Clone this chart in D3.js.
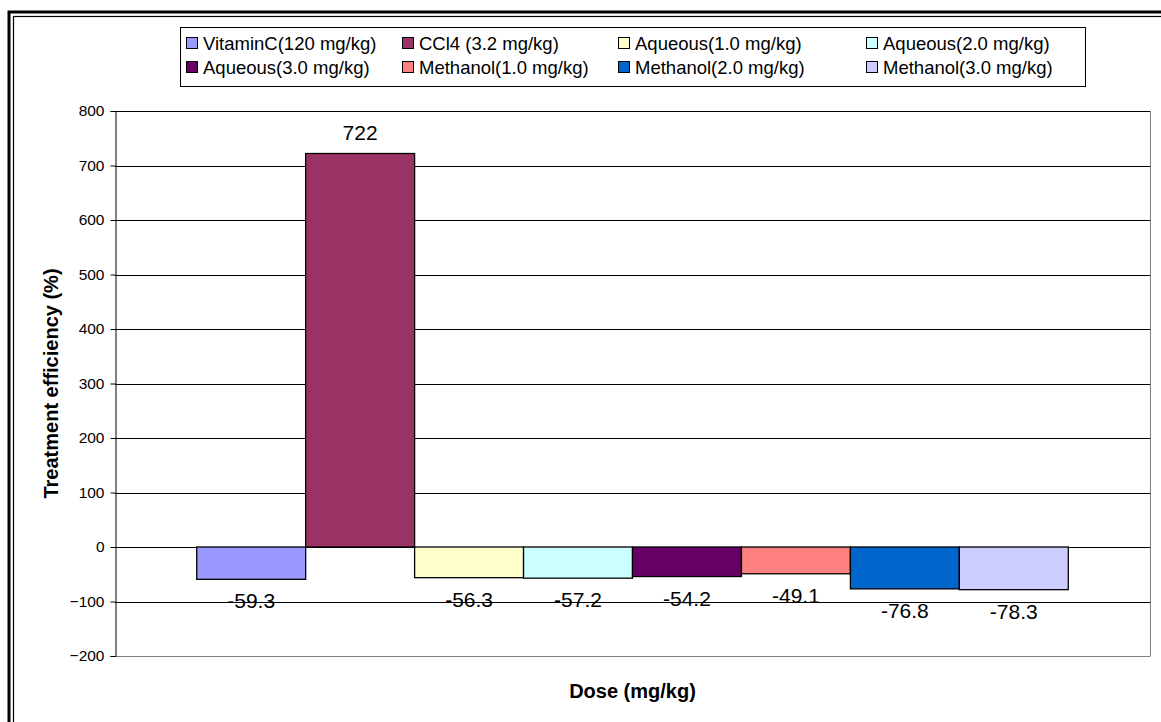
<!DOCTYPE html>
<html><head><meta charset="utf-8">
<script src="https://cdn.jsdelivr.net/npm/d3@7/dist/d3.min.js"></script>
<style>
body{margin:0;background:#fff}
svg{display:block}
text{font-family:"Liberation Sans",Arial,sans-serif;fill:#000}
</style>
</head><body>
<svg id="chart" width="1161" height="722"></svg>
<script>
const categories = ["Dose (mg/kg)"];
const seriesNames = ["VitaminC(120 mg/kg)","CCl4 (3.2 mg/kg)","Aqueous(1.0 mg/kg)","Aqueous(2.0 mg/kg)","Aqueous(3.0 mg/kg)","Methanol(1.0 mg/kg)","Methanol(2.0 mg/kg)","Methanol(3.0 mg/kg)"];
const seriesValues = [-59.3, 722, -56.3, -57.2, -54.2, -49.1, -76.8, -78.3];
const seriesColors = ["#9999FF","#993366","#FFFFCC","#CCFFFF","#660066","#FF8080","#0066CC","#CCCCFF"];
const yTickValues = [-200,-100,0,100,200,300,400,500,600,700,800];
const yTitle = "Treatment efficiency (%)";
const xTitle = "Dose (mg/kg)";

const svg = d3.select("#chart");
svg.append("rect").attr("width",1161).attr("height",722).attr("fill","#fff");

// outer double frame
svg.append("rect").attr("x",9).attr("y",12).attr("width",1300).attr("height",900)
  .attr("fill","none").attr("stroke","#000").attr("stroke-width",3);
svg.append("rect").attr("x",13.5).attr("y",16.5).attr("width",1300).attr("height",900)
  .attr("fill","none").attr("stroke","#000").attr("stroke-width",1.2);

const plot = {left:115, right:1150, top:111, bottom:656};

const y = d3.scaleLinear().domain([-200,800]).range([plot.bottom, plot.top]);
const x0 = d3.scaleBand().domain(categories).range([plot.left, plot.right])
  .paddingInner(0).paddingOuter(0.75/8);
const x1 = d3.scaleBand().domain(seriesNames).range([0, x0.bandwidth()]).padding(0);

// gridlines
const g = svg.append("g");
g.selectAll("line.grid").data(yTickValues).join("line")
  .attr("x1",plot.left).attr("x2",plot.right)
  .attr("y1",d=>Math.round(y(d))+0.5).attr("y2",d=>Math.round(y(d))+0.5)
  .attr("stroke",d=>d===-200?"#808080":"#000").attr("stroke-width",1);
// right border
g.append("line").attr("x1",plot.right+0.5).attr("x2",plot.right+0.5)
  .attr("y1",plot.top).attr("y2",plot.bottom+0.5).attr("stroke","#808080");

// bars
const bars = svg.append("g").attr("transform",`translate(${x0(categories[0])},0)`);
const data = seriesNames.map((n,i)=>({name:n, value:seriesValues[i], color:seriesColors[i]}));
bars.selectAll("rect").data(data).join("rect")
  .attr("x",d=>x1(d.name)).attr("width",x1.bandwidth())
  .attr("y",d=>y(Math.max(0,d.value))).attr("height",d=>Math.abs(y(d.value)-y(0)))
  .attr("fill",d=>d.color).attr("stroke","#000").attr("stroke-width",1.3);

// data labels
bars.selectAll("text").data(data).join("text")
  .attr("x",d=>x1(d.name)+x1.bandwidth()/2)
  .attr("y",d=>d.value>=0 ? y(d.value)-21 : y(d.value)+21.5)
  .attr("text-anchor","middle").attr("dominant-baseline","central")
  .style("font-size","21px")
  .text(d=>d.value);

// y axis
const yAxis = d3.axisLeft(y).tickValues(yTickValues).tickSize(5).tickPadding(6);
const ya = svg.append("g").attr("transform",`translate(${plot.left+0.5},0)`).call(yAxis);
ya.select(".domain").attr("stroke","#000");
ya.selectAll(".tick line").attr("stroke","#000");
ya.selectAll(".tick text").style("font-size","15.5px").attr("font-family",null);

// axis titles
svg.append("text").attr("transform",`translate(51,${(plot.top+plot.bottom)/2}) rotate(-90)`)
  .attr("text-anchor","middle").attr("dominant-baseline","central")
  .style("font-size","20px").style("font-weight","bold").text(yTitle);
svg.append("text").attr("x",(plot.left+plot.right)/2).attr("y",691)
  .attr("text-anchor","middle").attr("dominant-baseline","central")
  .style("font-size","20px").style("font-weight","bold").text(xTitle);

// legend
const leg = svg.append("g");
leg.append("rect").attr("x",180.5).attr("y",27.5).attr("width",905).attr("height",59)
  .attr("fill","#fff").attr("stroke","#000");
const colX = [186, 402, 618, 866];
const rowY = [43, 67];
const items = leg.selectAll("g.item").data(data).join("g")
  .attr("transform",(d,i)=>`translate(${colX[i%4]},${rowY[Math.floor(i/4)]})`);
items.append("rect").attr("x",0.5).attr("y",-5.5).attr("width",11).attr("height",11)
  .attr("fill",d=>d.color).attr("stroke","#000").attr("stroke-width",1);
items.append("text").attr("x",17).attr("y",0).attr("dominant-baseline","central")
  .style("font-size","18.5px").text(d=>d.name);
</script>
</body></html>
